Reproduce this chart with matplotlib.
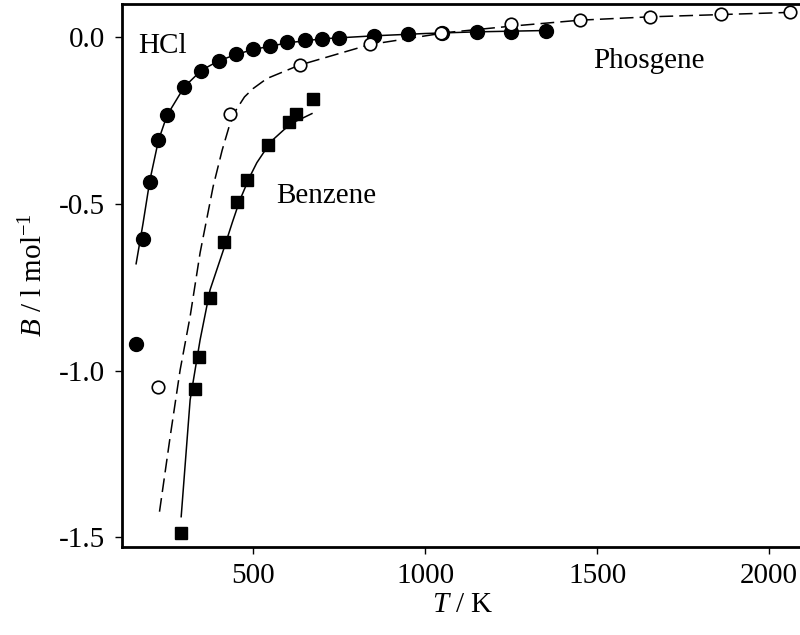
import matplotlib
matplotlib.use("Agg")
import matplotlib.pyplot as plt

plt.rcParams['font.family'] = ['Liberation Serif', 'DejaVu Serif']
plt.rcParams['mathtext.fontset'] = 'custom'
plt.rcParams['mathtext.rm'] = 'Liberation Serif'
plt.rcParams['mathtext.it'] = 'Liberation Serif:italic'

# measured second virial coefficients
hcl_T = [160, 180, 200, 225, 250, 300, 350, 400, 450, 500, 550, 600, 650, 700,
         750, 850, 950, 1050, 1150, 1250, 1350]
hcl_B = [-0.919, -0.606, -0.434, -0.309, -0.234, -0.151, -0.101, -0.071, -0.051,
         -0.037, -0.026, -0.015, -0.009, -0.007, -0.002, 0.003, 0.009, 0.011,
         0.016, 0.016, 0.019]

phos_T = [225, 433, 635, 840, 1045, 1250, 1450, 1655, 1860, 2060]
phos_B = [-1.048, -0.232, -0.084, -0.021, 0.013, 0.037, 0.049, 0.059, 0.067, 0.073]

benz_T = [291, 331, 343, 375, 415, 452, 483, 544, 603, 624, 673]
benz_B = [-1.486, -1.055, -0.958, -0.783, -0.615, -0.496, -0.428, -0.325, -0.256,
          -0.232, -0.187]

# fitted curves
hcl_fit_T = [160, 180, 200, 225, 250, 300, 350, 400, 450, 500, 600, 700, 850,
             1000, 1150, 1350]
hcl_fit_B = [-0.68, -0.56, -0.43, -0.31, -0.235, -0.15, -0.10, -0.072, -0.053,
             -0.038, -0.018, -0.006, 0.003, 0.01, 0.015, 0.019]

phos_fit_T = [228, 259, 288, 317, 346, 384, 410, 430, 450, 475, 500, 540, 634,
              840, 1063, 1250, 1451, 1654, 2081]
phos_fit_B = [-1.423, -1.198, -0.998, -0.838, -0.647, -0.448, -0.34, -0.27,
              -0.22, -0.18, -0.155, -0.125, -0.085, -0.023, 0.013, 0.032, 0.05,
              0.06, 0.074]

benz_fit_T = [291, 317, 346, 375, 414, 440, 462, 490, 511, 535, 558, 590, 616,
              645, 671]
benz_fit_B = [-1.438, -1.088, -0.908, -0.758, -0.638, -0.555, -0.488, -0.42,
              -0.377, -0.34, -0.308, -0.278, -0.257, -0.243, -0.230]

fig = plt.figure(figsize=(8, 6.35), dpi=100)
ax = fig.add_axes([0.1525, 0.139, 0.852, 0.855])

ax.plot(hcl_fit_T, hcl_fit_B, color='black', lw=1.1)
ax.plot(phos_fit_T, phos_fit_B, color='black', lw=1.1, dashes=(9, 4))
ax.plot(benz_fit_T, benz_fit_B, color='black', lw=1.1)

ax.plot(hcl_T, hcl_B, 'o', color='black', ms=10, zorder=3)
ax.plot(phos_T, phos_B, 'o', mfc='white', mec='black', mew=1.2, ms=9, zorder=4)
ax.plot(benz_T, benz_B, 's', color='black', ms=8.5, zorder=3)

ax.text(238, -0.026, 'HCl', fontsize=21, ha='center', va='center')
ax.text(712, -0.476, 'Benzene', fontsize=21, ha='center', va='center')
ax.text(1651, -0.073, 'Phosgene', fontsize=21, ha='center', va='center')

ax.set_xlim(119, 2100)
ax.set_ylim(-1.528, 0.099)
ax.set_xticks([500, 1000, 1500, 2000])
ax.set_yticks([0.0, -0.5, -1.0, -1.5])
ax.set_yticklabels(['0.0', '-0.5', '-1.0', '-1.5'])
ax.tick_params(direction='out', length=5, width=1, labelsize=21, pad=7)

for s in ax.spines.values():
    s.set_linewidth(2)

ax.set_xlabel(r'$T$ / K', fontsize=21, labelpad=2)
ax.set_ylabel(r'$B$ / l mol$^{\mathrm{-1}}$', fontsize=21, labelpad=8)

fig.savefig('out.png', dpi=100)
